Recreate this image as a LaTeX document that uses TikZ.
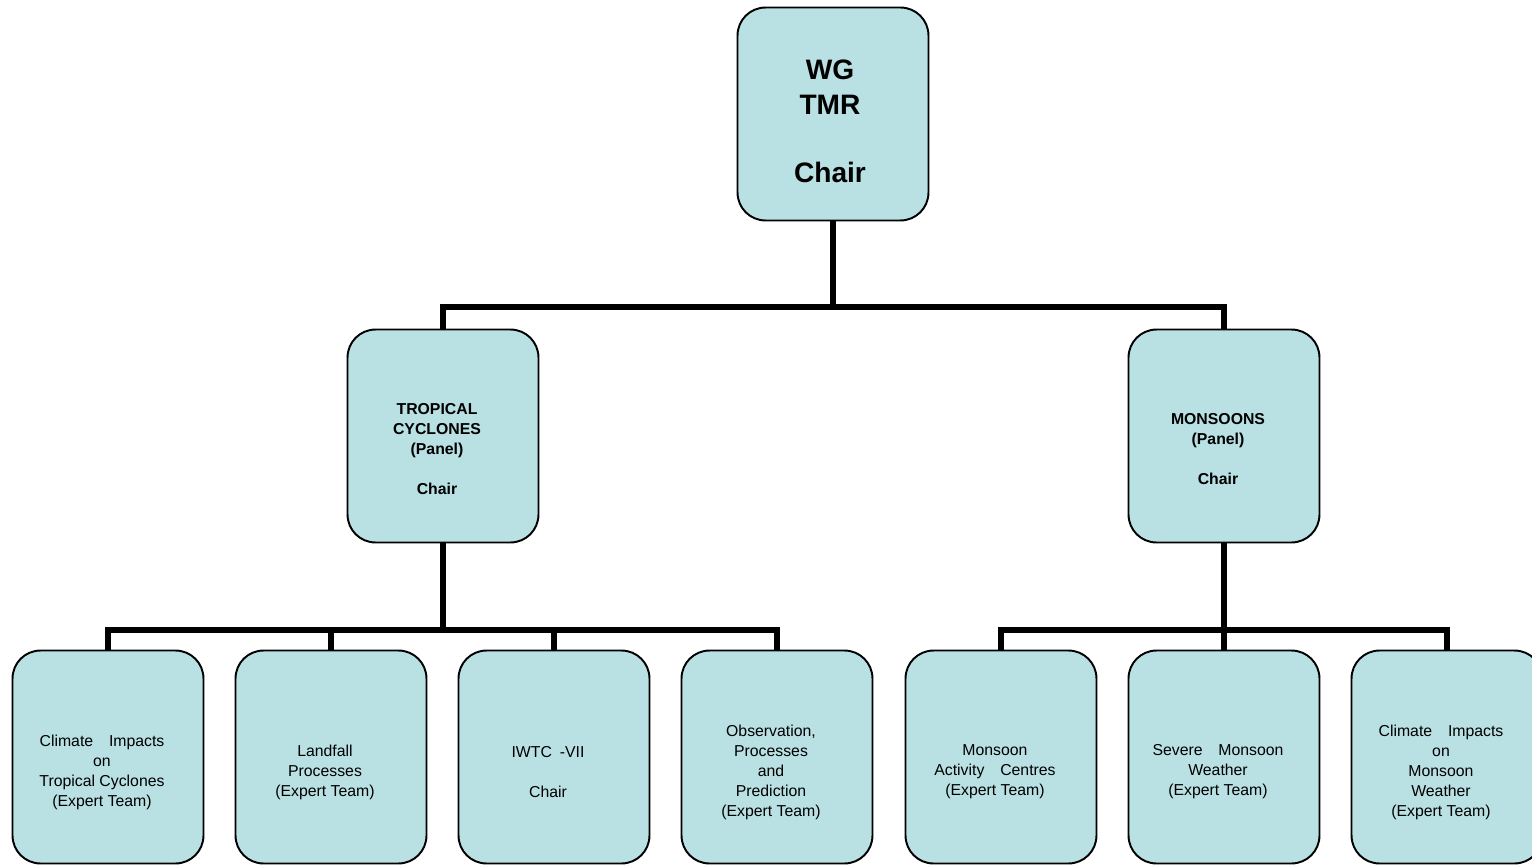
\documentclass[tikz,border=0pt]{standalone}
\usepackage{fontspec}
\setmainfont{Liberation Sans}
\usetikzlibrary{positioning}
\definecolor{boxfill}{RGB}{185,224,227}

\begin{document}
\begin{tikzpicture}
  [x=0.02cm, y=-0.02cm,
   unit/.style={rectangle, rounded corners=0.56cm, draw=black, line width=1.1pt,
     fill=boxfill, minimum width=3.82cm, minimum height=4.26cm},
   toptext/.style={font=\fontsize{16}{19.5}\selectfont\bfseries, align=center,
     xshift=-0.06cm, yshift=-0.15cm},
   paneltext/.style={font=\fontsize{9}{11.4}\selectfont\bfseries, align=center,
     xshift=-0.12cm, yshift=-0.26cm},
   teamtext/.style={font=\fontsize{9}{11.4}\selectfont, align=center,
     xshift=-0.12cm, yshift=-0.3cm},
   top/.style={unit, label={[toptext]center:#1}},
   panel/.style={unit, label={[paneltext]center:#1}},
   team/.style={unit, label={[teamtext]center:#1}},
   bus/.style={line width=3.4pt, line join=miter}]
  \useasboundingbox (0,0) rectangle (1532,865);
  \clip (0,0) rectangle (1532,865);

  % working group and its two panels
  \node (wg) at (833,114) [top={WG\\TMR\\[19.5pt]Chair}] {};
  \node (tc) at (443,436) [panel={TROPICAL\\CYCLONES\\(Panel)\\[11.4pt]Chair}] {};
  \node (mo) at (1224,436) [panel={MONSOONS\\(Panel)\\[11.4pt]Chair}] {};

  % expert teams
  \node (tc1) at (108,757) [team={Climate\quad Impacts\\on\\Tropical Cyclones\\(Expert Team)}] {};
  \node (tc2) at (331,757) [team={Landfall\\Processes\\(Expert Team)}] {};
  \node (tc3) at (554,757) [team={IWTC\enspace -VII\\[11.4pt]Chair}] {};
  \node (tc4) at (777,757) [team={Observation,\\Processes\\and\\Prediction\\(Expert Team)}] {};
  \node (mo1) at (1001,757) [team={Monsoon\\Activity\quad Centres\\(Expert Team)}] {};
  \node (mo2) at (1224,757) [team={Severe\quad Monsoon\\Weather\\(Expert Team)}] {};
  \node (mo3) at (1447,757) [team={Climate\quad Impacts\\on\\Monsoon\\Weather\\(Expert Team)}] {};

  \coordinate (wgbus) at (833,307);
  \coordinate (tcbus) at (443,630);
  \coordinate (mobus) at (1224,630);

  \draw [bus] (wg.south) -- (wgbus) -| (tc.north);
  \draw [bus] (wgbus) -| (mo.north);
  \draw [bus] (tc.south) -- (tcbus);
  \draw [bus] (mo.south) -- (mobus);
  \foreach \n in {1, 2, 3, 4}
    \draw [bus] (tcbus) -| (tc\n.north);
  \foreach \n in {1, 2, 3}
    \draw [bus] (mobus) -| (mo\n.north);
\end{tikzpicture}
\end{document}
